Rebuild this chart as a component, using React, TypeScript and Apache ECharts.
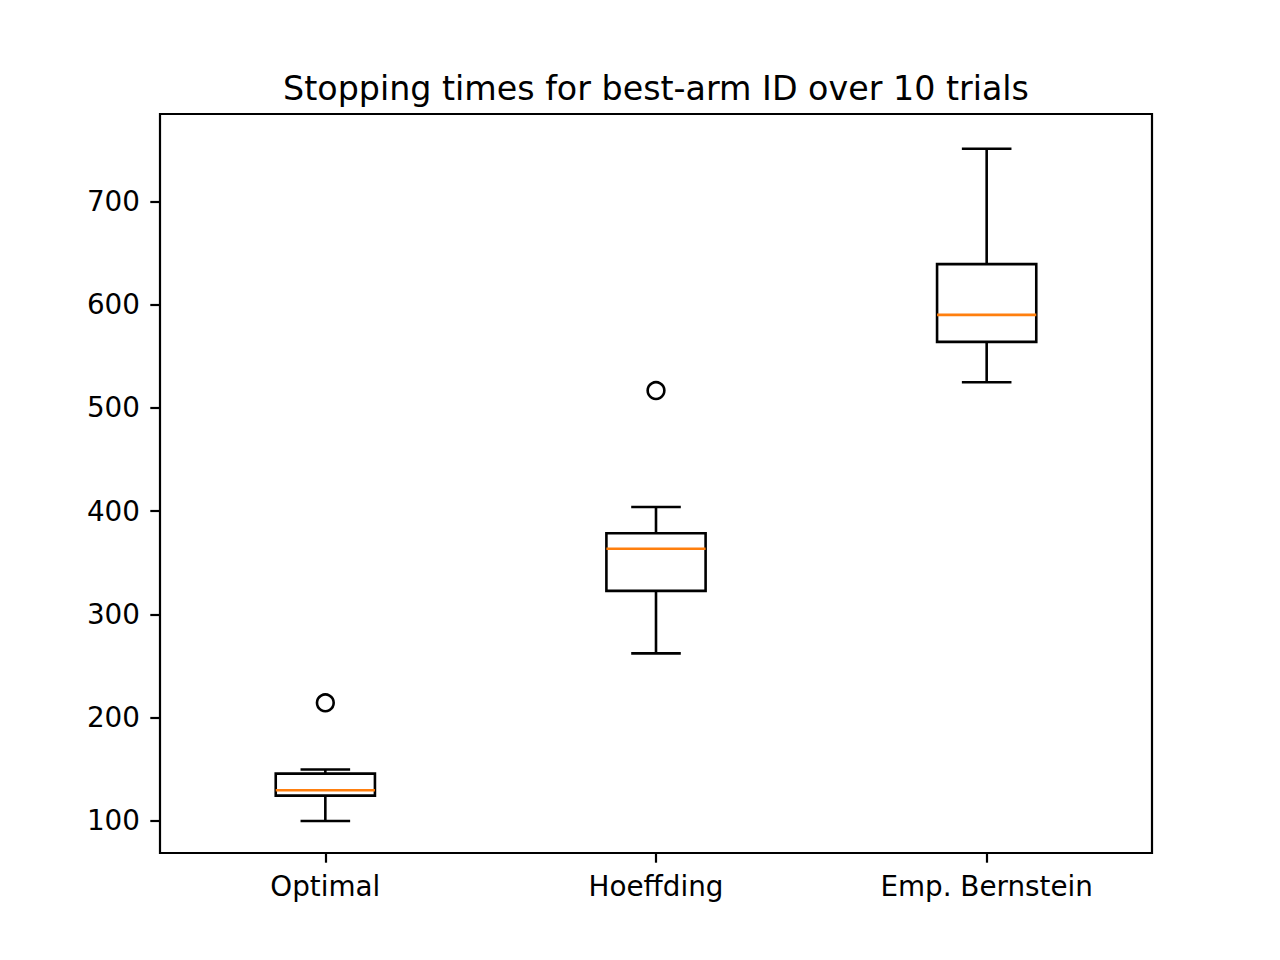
import React, { useEffect, useRef } from "react";
import * as echarts from "echarts";

const categories = ["Optimal", "Hoeffding", "Emp. Bernstein"];
const whiskerLow = [100, 262.3, 524.9];
const quartile1 = [124.6, 322.9, 564.0];
const medians = [129.8, 363.6, 590.2];
const quartile3 = [145.9, 378.6, 639.3];
const whiskerHigh = [149.8, 404.1, 751.1];
const outlierCategory = [0, 1];
const outlierValues = [214.4, 516.8];
const yTicks = [100, 200, 300, 400, 500, 600, 700];

const FONT = "DejaVu Sans";
const BOX_HALF = 49.6;
const CAP_HALF = 24.8;
const LW = 2.6;

export default function App() {
  const ref = useRef<HTMLDivElement>(null);
  useEffect(() => {
    if (!ref.current) return;
    const chart = echarts.init(ref.current, undefined, { renderer: "svg" });
    const boxData = categories.map((_, i) => [
      i,
      whiskerLow[i],
      quartile1[i],
      medians[i],
      quartile3[i],
      whiskerHigh[i],
    ]);
    const outlierData = outlierCategory.map((c, i) => [c, outlierValues[i]]);
    const option: any = {
      animation: false,
      backgroundColor: "#ffffff",
      title: {
        text: "Stopping times for best-arm ID over 10 trials",
        left: 651,
        top: 67,
        textAlign: "center",
        textStyle: {
          fontFamily: FONT,
          fontSize: 33.3,
          fontWeight: "normal",
          color: "#000",
        },
      },
      grid: {
        left: 160,
        right: 128,
        top: 114,
        bottom: 107,
        show: true,
        borderColor: "#000",
        borderWidth: 2.2,
        backgroundColor: "transparent",
      },
      xAxis: {
        type: "category",
        data: categories,
        boundaryGap: true,
        axisLine: { show: false },
        axisTick: {
          show: true,
          alignWithLabel: true,
          length: 9.7,
          lineStyle: { color: "#000", width: 2.2 },
        },
        axisLabel: {
          margin: 19,
          fontFamily: FONT,
          fontSize: 27.8,
          color: "#000",
        },
        splitLine: { show: false },
      },
      yAxis: {
        type: "value",
        min: 69,
        max: 784.7,
        axisLine: { show: false },
        axisTick: {
          show: true,
          length: 9.7,
          customValues: yTicks,
          lineStyle: { color: "#000", width: 2.2 },
        },
        axisLabel: {
          margin: 20,
          fontFamily: FONT,
          fontSize: 27.8,
          color: "#000",
          customValues: yTicks,
        },
        splitLine: { show: false },
      },
      series: [
        {
          type: "custom",
          data: boxData,
          encode: { x: 0, y: [1, 2, 3, 4, 5] },
          renderItem: (params: any, api: any) => {
            const i = api.value(0);
            const lo = api.coord([i, api.value(1)]);
            const b1 = api.coord([i, api.value(2)]);
            const md = api.coord([i, api.value(3)]);
            const b3 = api.coord([i, api.value(4)]);
            const hi = api.coord([i, api.value(5)]);
            const x = lo[0];
            const black = { stroke: "#000", lineWidth: LW, fill: "none" };
            return {
              type: "group",
              children: [
                { type: "line", shape: { x1: x, y1: lo[1], x2: x, y2: b1[1] }, style: black },
                { type: "line", shape: { x1: x, y1: b3[1], x2: x, y2: hi[1] }, style: black },
                { type: "line", shape: { x1: x - CAP_HALF, y1: lo[1], x2: x + CAP_HALF, y2: lo[1] }, style: black },
                { type: "line", shape: { x1: x - CAP_HALF, y1: hi[1], x2: x + CAP_HALF, y2: hi[1] }, style: black },
                {
                  type: "rect",
                  shape: { x: x - BOX_HALF, y: b3[1], width: 2 * BOX_HALF, height: b1[1] - b3[1] },
                  style: black,
                },
                {
                  type: "line",
                  shape: { x1: x - BOX_HALF, y1: md[1], x2: x + BOX_HALF, y2: md[1] },
                  style: { stroke: "#ff7f0e", lineWidth: LW },
                },
              ],
            };
          },
        },
        {
          type: "scatter",
          data: outlierData,
          symbol: "circle",
          symbolSize: 16.7,
          itemStyle: {
            color: "rgba(0,0,0,0)",
            borderColor: "#000",
            borderWidth: LW,
            opacity: 1,
          },
        },
      ],
    };
    chart.setOption(option);
    return () => chart.dispose();
  }, []);
  return (
    <div
      ref={ref}
      style={{ position: "absolute", left: 0, top: 0, width: 1280, height: 960 }}
    />
  );
}
